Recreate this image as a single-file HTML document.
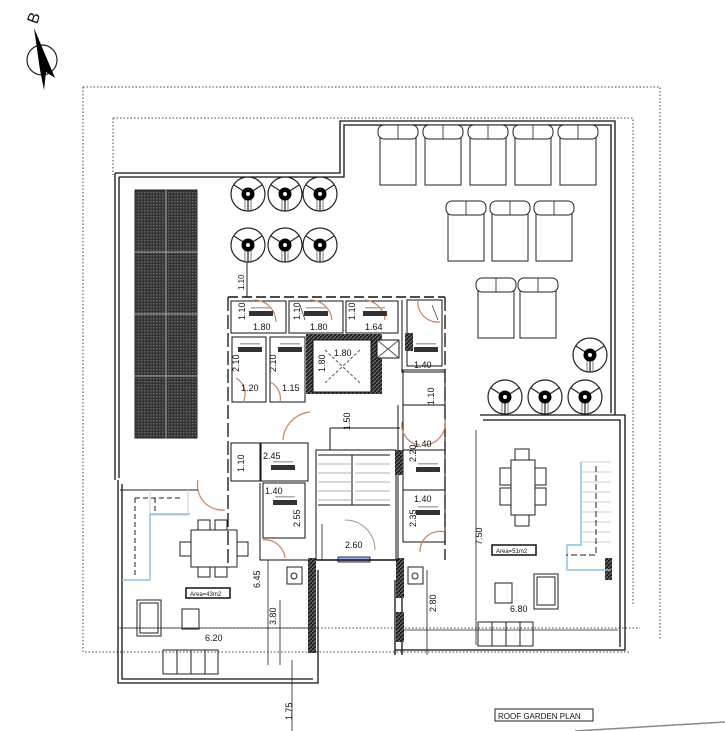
<!DOCTYPE html>
<html><head><meta charset="utf-8"><style>
html,body{margin:0;padding:0;background:#fff;}
svg{display:block;}
text{font-family:"Liberation Sans",sans-serif;fill:#111;}
</style></head><body>
<svg width="725" height="731" viewBox="0 0 725 731" xmlns="http://www.w3.org/2000/svg">
<defs>
<pattern id="sol" width="3" height="3" patternUnits="userSpaceOnUse"><rect width="3" height="3" fill="#333"/><rect width="1.5" height="1.5" fill="#666"/></pattern>
<pattern id="hat" width="4" height="4" patternUnits="userSpaceOnUse"><rect width="4" height="4" fill="#222"/><path d="M0 4L4 0" stroke="#777" stroke-width="1"/></pattern>
<g id="umb"><circle r="17" fill="#fff" stroke="#222" stroke-width="1.2"/><path d="M0 0L-14 -9M0 0L14 -9M0 0L0 17" stroke="#222" stroke-width="1.2"/><path d="M-3 0L-3 17M3 0L3 17" stroke="#444" stroke-width="0.7"/><circle r="6.5" fill="#000"/><circle r="2" fill="#fff"/></g>
<g id="lng"><rect x="0" y="0" width="36" height="58" fill="#fff" stroke="#222" stroke-width="1"/><rect x="-2" y="-2" width="40" height="14" rx="6" fill="#fff" stroke="#222" stroke-width="1"/><line x1="18" y1="-2" x2="18" y2="12" stroke="#222" stroke-width="0.8"/></g>
<g id="stor"><rect x="2" y="0" width="24" height="5" fill="#333"/><rect x="4" y="-4" width="20" height="1.5" fill="#aaa"/></g>
</defs>

<!-- compass -->
<text x="28" y="24" font-size="16" transform="rotate(-70 33 18)">B</text>
<circle cx="42" cy="60" r="15" fill="none" stroke="#222" stroke-width="1.2"/>
<path d="M34 28L55 78L46 72L44 90L40 70Z" fill="#000"/>

<!-- dotted boundaries -->
<g fill="none" stroke="#444" stroke-width="1" stroke-dasharray="1.5 2">
<path d="M83 87H660V640"/>
<path d="M83 87V652H400"/>
<path d="M113 118H633V606"/>
<path d="M113 118V175"/>
<path d="M118 628H640"/>
<path d="M400 652H630"/>
</g>

<!-- building outline -->
<g fill="none" stroke="#111" stroke-width="1.3">
<path d="M115 173H340V121H615V415"/>
<path d="M119 177H344V125H611V413"/>
<path d="M115 173V480"/>
<path d="M119 177V478"/>
<path d="M480 415H625V650H395"/>
<path d="M483 420H620V647"/>
<path d="M118 480V683H318V570"/>
<path d="M122 484V679H313"/>
<path d="M395 580V655"/>
<path d="M402 580V655"/>
</g>

<!-- solar -->
<rect x="135" y="190" width="62" height="248" fill="url(#sol)" stroke="#222"/>
<path d="M166 190V438M135 252H197M135 314H197M135 376H197" stroke="#aaa" stroke-width="1"/>

<!-- umbrellas -->
<use href="#umb" x="248" y="194"/><use href="#umb" x="285" y="194"/><use href="#umb" x="320" y="194"/>
<use href="#umb" x="248" y="245"/><use href="#umb" x="285" y="245"/><use href="#umb" x="320" y="245"/>
<use href="#umb" x="590" y="355"/><use href="#umb" x="505" y="397"/><use href="#umb" x="545" y="397"/><use href="#umb" x="585" y="397"/>

<!-- loungers -->
<use href="#lng" x="380" y="127"/><use href="#lng" x="425" y="127"/><use href="#lng" x="470" y="127"/><use href="#lng" x="515" y="127"/><use href="#lng" x="560" y="127"/>
<use href="#lng" x="448" y="203"/><use href="#lng" x="492" y="203"/><use href="#lng" x="536" y="203"/>
<use href="#lng" x="478" y="280"/><use href="#lng" x="520" y="280"/>

<line x1="247" y1="262" x2="247" y2="297" stroke="#222"/>
<text x="244" y="290" font-size="8" transform="rotate(-90 244 290)">1.10</text>

<!-- core -->
<g fill="none" stroke="#111" stroke-width="1">
<path d="M228 297H445" stroke-dasharray="10 4" stroke-width="1.5"/>
<path d="M228 297V565" stroke-dasharray="14 4" stroke-width="1.3"/>
<path d="M445 297V560" stroke-dasharray="14 4" stroke-width="1.3"/>
<rect x="231" y="301" width="55" height="32"/>
<rect x="289" y="301" width="54" height="32"/>
<rect x="346" y="301" width="52" height="32"/>
<rect x="232" y="337" width="34" height="65"/>
<rect x="270" y="337" width="35" height="65"/>
<rect x="407" y="300" width="35" height="66"/>
<path d="M402 300V372H445"/>
<rect x="403" y="370" width="42" height="35"/>
<rect x="231" y="443" width="30" height="38"/>
<rect x="260" y="443" width="48" height="38"/>
<rect x="263" y="483" width="42" height="55"/>
<path d="M260 483V560H310"/>
<rect x="403" y="405" width="42" height="45"/>
<rect x="403" y="450" width="42" height="40"/>
<rect x="403" y="490" width="42" height="52"/>
<path d="M398 405V560"/>
<rect x="316" y="450" width="80" height="110"/>
<path d="M318 455H352V505H318M352 455H390M352 505H390"/>
<path d="M318 464H352M318 473H352M318 482H352M318 491H352M318 500H352M355 464H390M355 473H390M355 482H390M355 491H390M355 500H390" stroke="#999" stroke-width="0.7"/>
<path d="M345 520A30 30 0 0 1 375 550" stroke="#999"/>
<path d="M330 428H400M330 428V450"/>
</g>
<!-- elevator -->
<rect x="306" y="334" width="76" height="60" fill="url(#hat)"/>
<rect x="313" y="340" width="58" height="52" fill="#fff" stroke="#111"/>
<path d="M325 350L360 383M360 350L325 383" stroke="#555" stroke-dasharray="3 2"/>
<rect x="377" y="340" width="22" height="18" fill="#fff" stroke="#111"/>
<path d="M377 340L399 358M399 340L377 358" stroke="#555"/>
<rect x="405" y="333" width="8" height="18" fill="url(#hat)"/>
<rect x="395" y="450" width="8" height="25" fill="url(#hat)"/>
<rect x="308" y="558" width="8" height="95" fill="url(#hat)"/>
<rect x="396" y="558" width="8" height="40" fill="url(#hat)"/>
<rect x="396" y="612" width="8" height="30" fill="url(#hat)"/>
<rect x="605" y="558" width="7" height="22" fill="url(#hat)"/>
<rect x="338" y="557" width="32" height="5" fill="#9ab4dd" stroke="#336"/>
<path d="M316 560H398" stroke="#111" stroke-width="1.5"/>

<!-- door arcs -->
<g fill="none" stroke="#c9825a" stroke-width="1.2">
<path d="M255 300A22 22 0 0 1 276 322"/><path d="M310 300A22 22 0 0 1 332 320"/><path d="M365 300A22 22 0 0 1 385 320"/>
<path d="M418 300A20 20 0 0 0 440 322"/><path d="M236 378A18 18 0 0 1 243 402"/><path d="M270 382A18 18 0 0 1 280 402"/>
<path d="M283 440A30 30 0 0 1 310 412"/><path d="M402 422A20 20 0 0 0 420 445"/><path d="M445 420A22 22 0 0 1 425 445"/>
<path d="M198 480A25 25 0 0 0 225 510"/><path d="M263 540A20 20 0 0 1 285 558"/><path d="M420 552A20 20 0 0 1 445 532"/>
</g>
<g fill="none" stroke="#111" stroke-width="0.6"><path d="M300 305L305 320M432 305L438 320"/></g>

<!-- storage labels -->
<use href="#stor" x="247" y="311"/><use href="#stor" x="302" y="311"/><use href="#stor" x="361" y="311"/>
<use href="#stor" x="236" y="347"/><use href="#stor" x="276" y="347"/><use href="#stor" x="412" y="347"/>
<use href="#stor" x="269" y="465"/><use href="#stor" x="271" y="500"/><use href="#stor" x="414" y="467"/><use href="#stor" x="414" y="510"/>

<!-- dims -->
<g font-size="9">
<text x="253" y="330">1.80</text><text x="310" y="330">1.80</text><text x="365" y="330">1.64</text>
<text x="334" y="356">1.80</text><text x="414" y="368">1.40</text>
<text x="241" y="391">1.20</text><text x="282" y="391">1.15</text>
<text x="263" y="459">2.45</text><text x="265" y="494">1.40</text>
<text x="414" y="447">1.40</text><text x="414" y="502">1.40</text>
<text x="345" y="548">2.60</text>
<text x="205" y="641">6.20</text><text x="510" y="612">6.80</text>
</g>
<g font-size="9">
<text transform="translate(245 320) rotate(-90)">1.10</text>
<text transform="translate(300 320) rotate(-90)">1.10</text>
<text transform="translate(355 320) rotate(-90)">1.10</text>
<text transform="translate(239 372) rotate(-90)">2.10</text>
<text transform="translate(276 372) rotate(-90)">2.10</text>
<text transform="translate(325 372) rotate(-90)">1.80</text>
<text transform="translate(350 430) rotate(-90)">1.50</text>
<text transform="translate(434 405) rotate(-90)">1.10</text>
<text transform="translate(416 462) rotate(-90)">2.20</text>
<text transform="translate(416 527) rotate(-90)">2.35</text>
<text transform="translate(244 472) rotate(-90)">1.10</text>
<text transform="translate(300 527) rotate(-90)">2.55</text>
<text transform="translate(260 588) rotate(-90)">6.45</text>
<text transform="translate(276 625) rotate(-90)">3.80</text>
<text transform="translate(436 612) rotate(-90)">2.80</text>
<text transform="translate(482 545) rotate(-90)">7.50</text>
<text transform="translate(292 720) rotate(-90)">1.75</text>
</g>
<g stroke="#222" stroke-width="0.8" fill="none">
<path d="M268 560V665M280 600V665M292 660V731M427 570V655M476 430V645M120 628H318M403 630H618"/>
<path d="M322 524V560"/>
</g>

<!-- left terrace -->
<g fill="none" stroke="#222" stroke-width="1">
<path d="M120 490H198"/>
<path d="M150 490V580M150 515H188V490" stroke="#ccc"/>
<path d="M122 580H150V514H190" stroke="#8ec2e6" stroke-width="1.5"/>
<path d="M135 498H180M135 498V575M155 498V512" stroke-dasharray="5 3"/>
<rect x="191" y="530" width="46" height="37"/>
<rect x="180" y="542" width="11" height="14"/><rect x="237" y="542" width="11" height="14"/>
<rect x="198" y="520" width="12" height="10"/><rect x="215" y="520" width="12" height="10"/>
<rect x="198" y="567" width="12" height="10"/><rect x="215" y="567" width="12" height="10"/>
<rect x="137" y="600" width="24" height="36"/><rect x="140" y="603" width="18" height="30"/>
<rect x="182" y="609" width="17" height="20"/>
<rect x="163" y="650" width="55" height="24"/><path d="M177 650V674M191 650V674M205 650V674"/>
<rect x="287" y="567" width="15" height="17"/><circle cx="294" cy="576" r="3"/>
<rect x="408" y="567" width="15" height="17"/><circle cx="415" cy="576" r="3"/>
</g>
<rect x="186" y="588" width="44" height="10" fill="#fff" stroke="#111" stroke-width="1.5"/>
<text x="190" y="596" font-size="6">Area=43m2</text>

<!-- right terrace -->
<g fill="none" stroke="#222" stroke-width="1">
<rect x="511" y="460" width="24" height="55"/>
<rect x="500" y="468" width="11" height="17"/><rect x="500" y="488" width="11" height="17"/>
<rect x="535" y="468" width="11" height="17"/><rect x="535" y="488" width="11" height="17"/>
<rect x="515" y="449" width="14" height="11"/><rect x="515" y="515" width="14" height="11"/>
<path d="M581 462V545H567V570H611" stroke="#8ec2e6" stroke-width="1.5"/>
<path d="M581 462H611M581 472H611M581 482H611M581 492H611M581 502H611M581 512H611M581 522H611M581 532H611M581 542H611" stroke="#ccc"/>
<path d="M596 466V555H566" stroke-dasharray="6 3"/>
<rect x="495" y="583" width="17" height="20"/>
<rect x="534" y="574" width="24" height="35"/><rect x="537" y="577" width="18" height="28"/>
<rect x="478" y="622" width="55" height="24"/><path d="M492 622V646M506 622V646M520 622V646"/>
</g>
<rect x="492" y="545" width="44" height="10" fill="#fff" stroke="#111" stroke-width="1.5"/>
<text x="496" y="553" font-size="6">Area=51m2</text>

<!-- title -->
<rect x="495" y="709" width="98" height="12" fill="#fff" stroke="#222"/>
<text x="498" y="719" font-size="8">ROOF GARDEN PLAN</text>
<path d="M575 731L725 722" stroke="#888" stroke-width="1.5"/>
</svg>
</body></html>
